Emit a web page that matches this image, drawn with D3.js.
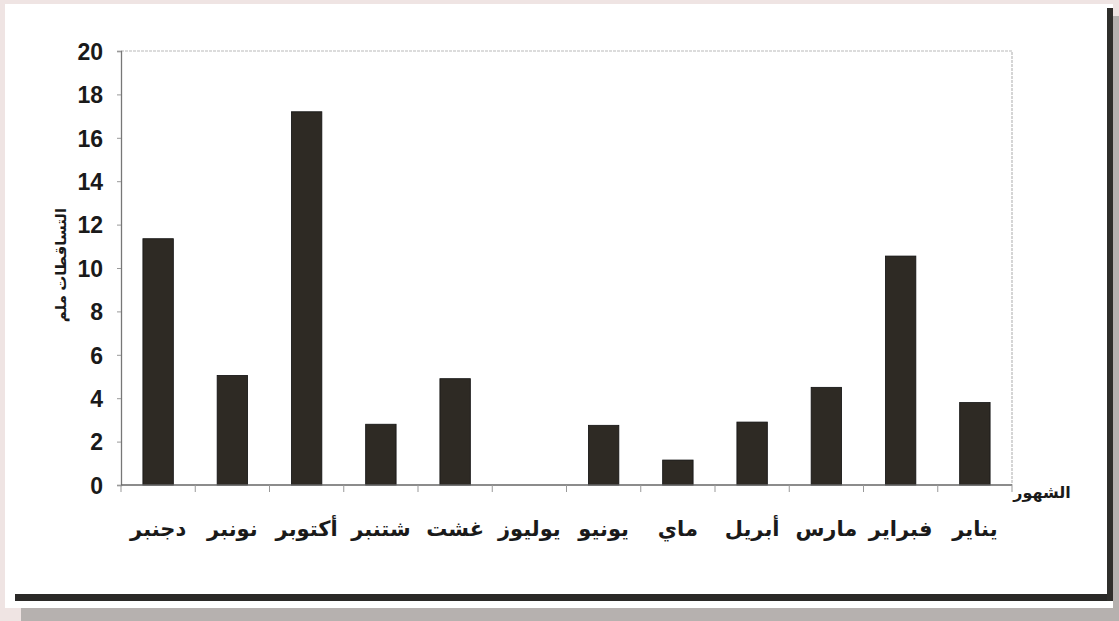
<!DOCTYPE html>
<html><head><meta charset="utf-8">
<script src="https://cdn.jsdelivr.net/npm/d3@7/dist/d3.min.js"></script>
<style>
html,body{margin:0;padding:0;background:#efe4e3;}
svg{display:block;}
text{font-family:"Liberation Sans","DejaVu Sans",Arial,sans-serif;font-weight:bold;fill:#1a1a1a;}
</style></head><body>
<svg id="c" width="1119" height="621"></svg>
<script>
const months = ["دجنبر","نونبر","أكتوبر","شتنبر","غشت","يوليوز","يونيو","ماي","أبريل","مارس","فبراير","يناير"];
const rainfall = [11.35, 5.05, 17.2, 2.8, 4.9, 0, 2.75, 1.15, 2.9, 4.5, 10.55, 3.8];
const yTicks = [0,2,4,6,8,10,12,14,16,18,20];
const yTitle = "التساقطات ملم";
const xTitle = "الشهور";

const svg = d3.select("#c");
// page background pieces
svg.append("rect").attr("x",0).attr("y",0).attr("width",1119).attr("height",621).attr("fill","#efe4e3");
svg.append("rect").attr("x",21).attr("y",606).attr("width",1098).attr("height",15).attr("fill","#b6b1af");
svg.append("rect").attr("x",1113).attr("y",16).attr("width",6).attr("height",605).attr("fill","#b6b1af");
svg.append("rect").attr("x",5).attr("y",4).attr("width",1108).attr("height",604).attr("fill","#ffffff");
// dark shadow frame
svg.append("rect").attr("x",15).attr("y",594).attr("width",1098).attr("height",7).attr("fill","#2a2927");
svg.append("rect").attr("x",1107).attr("y",8).attr("width",6).attr("height",593).attr("fill","#2f2e2b");

const x0 = 121, x1 = 1012, y0 = 485, y1 = 51;
const x = d3.scaleBand().domain(months).range([x0,x1]).paddingInner(0.59).paddingOuter(0.295);
const xb = d3.scaleBand().domain(months).range([x0,x1]);
const y = d3.scaleLinear().domain([0,20]).range([y0,y1]);

// plot border top/right
svg.append("path").attr("d",`M${x0},${y1}H${x1}V${y0}`).attr("fill","none")
  .attr("stroke","#b9b9b9").attr("stroke-width",1.2).attr("stroke-dasharray","3,1");

// bars
svg.selectAll("rect.bar").data(months).enter().append("rect").attr("class","bar")
  .attr("x",d=>x(d)).attr("width",x.bandwidth())
  .attr("y",(d,i)=>y(rainfall[i])).attr("height",(d,i)=>y0-y(rainfall[i]))
  .attr("fill","#2e2a24").attr("stroke","#111").attr("stroke-width",0.8);

// y axis
const ya = d3.axisLeft(y).tickValues(yTicks).tickSize(4).tickPadding(14);
const gy = svg.append("g").attr("transform",`translate(${x0},0)`).call(ya);
gy.select(".domain").attr("stroke","#777").attr("stroke-width",1.3);
gy.selectAll(".tick line").attr("stroke","#999");
gy.selectAll(".tick text").attr("font-size",23).attr("fill","#1c1c1c").attr("dy","0.36em")
  .style("font-family","'Liberation Sans',Arial,sans-serif").style("font-weight","bold");

// x axis (ticks at boundaries)
const gx = svg.append("g").attr("transform",`translate(0,${y0})`);
gx.append("line").attr("x1",x0).attr("x2",x1).attr("y1",0).attr("y2",0).attr("stroke","#666").attr("stroke-width",1.5);
const bounds = months.map(m=>xb(m)).concat([x1]);
gx.selectAll("line.tk").data(bounds).enter().append("line").attr("class","tk")
  .attr("x1",d=>d).attr("x2",d=>d).attr("y1",0).attr("y2",7).attr("stroke","#999").attr("stroke-width",1);
gx.selectAll("text.lbl").data(months).enter().append("text").attr("class","lbl")
  .attr("x",d=>xb(d)+xb.bandwidth()/2).attr("y",51).attr("text-anchor","middle")
  .attr("font-size",21).text(d=>d);

// titles
svg.append("text").attr("transform","translate(66,265) rotate(-90)").attr("text-anchor","middle")
  .attr("font-size",15).text(yTitle);
svg.append("text").attr("x",1042).attr("y",498).attr("text-anchor","middle")
  .attr("font-size",16).text(xTitle);
</script>
</body></html>
